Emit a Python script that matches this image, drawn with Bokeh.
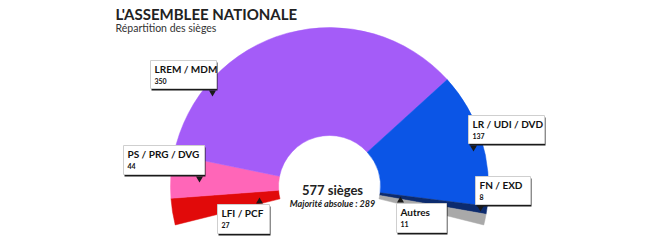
import math
from bokeh.plotting import figure
from bokeh.models import ColumnDataSource
from bokeh.core.properties import value
from bokeh.embed import file_html
from bokeh.resources import INLINE

parties = ["LFI / PCF", "PS / PRG / DVG", "LREM / MDM", "LR / UDI / DVD", "FN / EXD", "Autres"]
seats = [27, 44, 350, 137, 8, 11]
colors = ["#e10a0a", "#ff66b8", "#a45cf8", "#0b55e6", "#0c2b6e", "#a9a9a9"]
total_label = "577 sièges"
majority_label = "Majorité absolue : 289"
title = "L'ASSEMBLEE NATIONALE"
subtitle = "Répartition des sièges"

W, H = 660, 247
p = figure(width=W, height=H, x_range=(0, W), y_range=(0, H), output_backend="svg",
           toolbar_location=None, min_border=0)
p.axis.visible = False
p.grid.visible = False
p.outline_line_color = None
p.background_fill_color = "white"

def Y(py):
    return H - py

cx, cy = 329, Y(186)
r_in, r_out = 51, 159
start_deg, span_deg = 194.0, 208.0
tot = sum(seats)
starts, ends = [], []
cum = 0
for s in seats:
    a0 = start_deg - cum / tot * span_deg
    cum += s
    a1 = start_deg - cum / tot * span_deg
    starts.append(math.radians(a1))
    ends.append(math.radians(a0))

src = ColumnDataSource(dict(start=starts, end=ends, color=colors))
p.annular_wedge(x=cx, y=cy, inner_radius=r_in, outer_radius=r_out, start_angle="start",
                end_angle="end", fill_color="color", line_color="color", line_width=0.5, source=src)

font = value("Lato")
p.text(x=[115], y=[Y(13)], text=[title], text_font=font, text_font_style="bold",
       text_font_size="15px", text_color="#222222", text_baseline="middle")
p.text(x=[115], y=[Y(27)], text=[subtitle], text_font=font,
       text_font_size="10.5px", text_color="#333333", text_baseline="middle")
p.text(x=[cx + 3], y=[Y(189)], text=[total_label], text_font=font, text_font_style="bold",
       text_font_size="13px", text_color="#222222", text_align="center", text_baseline="middle")
p.text(x=[cx + 3], y=[Y(203)], text=[majority_label], text_font=font, text_font_style="bold italic",
       text_font_size="9px", text_color="#222222", text_align="center", text_baseline="middle")

# label boxes: (left, top, right, bottom) in pixels, pointer position, pointer direction
boxes = [
    (217, 204, 269, 233, (259, 201), "up"),
    (123, 145, 204, 174, (199, 178), "down"),
    (150, 60, 216, 88, (212, 92), "down"),
    (468, 115, 544, 143, (473, 147), "down"),
    (475, 176, 530, 204, (480, 207), "down"),
    (396, 203, 446, 232, (400, 200), "up"),
]
for (l, t, r, b, (px, py), d), name, n in zip(boxes, parties, seats):
    p.quad(left=l + 1, right=r + 1, top=Y(t + 2), bottom=Y(b + 2), fill_color="#1a1a1a", line_color=None)
    p.quad(left=l, right=r, top=Y(t), bottom=Y(b), fill_color="white", line_color="#cfcfcf", line_width=1)
    p.scatter(x=[px], y=[Y(py)], marker="triangle" if d == "up" else "inverted_triangle",
              size=7, fill_color="#1a1a1a", line_color=None)
    p.text(x=[l + 4], y=[Y(t + 8)], text=[name], text_font=font, text_font_style="bold",
           text_font_size="10px", text_color="#111111", text_baseline="middle")
    p.text(x=[l + 4], y=[Y(t + 20)], text=[str(n)], text_font=font, text_font_style="bold",
           text_font_size="7px", text_color="#111111", text_baseline="middle")

open("out.html", "w").write(file_html(p, INLINE))
